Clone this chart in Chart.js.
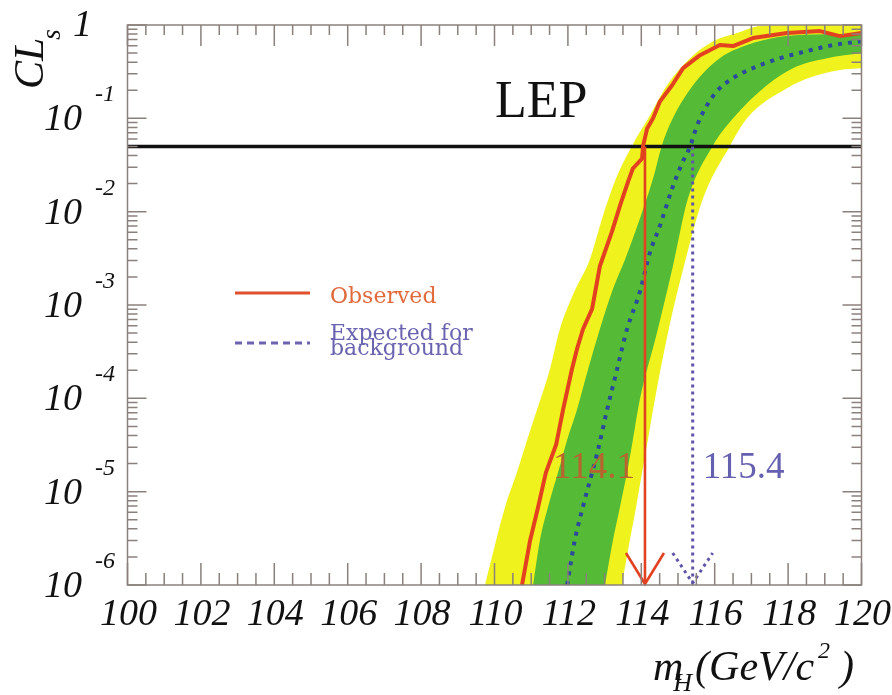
<!DOCTYPE html>
<html><head><meta charset="utf-8">
<script src="https://cdn.jsdelivr.net/npm/chart.js@4/dist/chart.umd.min.js"></script>
<style>html,body{margin:0;padding:0;background:#fff;}</style>
</head><body>
<canvas id="c" width="892" height="695"></canvas>
<script>
// ---- data ----
const obsMass = [110.75,110.97,111.19,111.40,111.68,111.87,112.11,112.25,112.41,112.66,112.87,113.20,113.42,113.64,113.77,114.02,114.05,114.16,114.32,114.51,114.84,115.14,115.60,116.14,116.50,117.04,117.97,118.87,119.41,120.0];
const obsCL   = [1.0e-6,3.0e-6,6.9e-6,1.6e-5,3.2e-5,7.6e-5,2.05e-4,3.4e-4,5.5e-4,9.1e-4,2.6e-3,6.1e-3,1.16e-2,2.1e-2,2.9e-2,3.7e-2,5.1e-2,7.8e-2,0.10,0.152,0.226,0.345,0.475,0.61,0.595,0.725,0.82,0.86,0.76,0.82];

const expMass = [111.98,112.19,112.41,112.66,112.82,113.07,113.34,113.61,113.96,114.24,114.51,114.84,115.11,115.33,115.52,115.79,116.06,116.50,117.04,117.78,118.51,119.22,120.0];
const expCL   = [1.0e-6,3.05e-6,6.9e-6,1.6e-5,2.8e-5,7.6e-5,2.05e-4,5.5e-4,1.38e-3,3.7e-3,7.1e-3,1.77e-2,3.3e-2,5.0e-2,8.4e-2,0.138,0.195,0.27,0.345,0.44,0.525,0.61,0.67];

// +-2 sigma band, upper (left) edge
const band2UpMass = [109.74,110.29,110.61,110.89,111.16,111.51,111.78,112.18,112.60,112.93,113.31,113.75,114.19,114.70,115.33,115.96,116.61,117.24,118.5,120.0];
const band2UpCL   = [1.0e-6,6.9e-6,1.6e-5,3.6e-5,7.6e-5,2.05e-4,5.5e-4,1.4e-3,3.1e-3,8.4e-3,2.26e-2,5.1e-2,0.10,0.226,0.44,0.67,0.82,0.975,1.0,1.0];
// +-1 sigma band, upper (left) edge
const band1UpMass = [111.05,111.24,111.46,111.73,111.98,112.25,112.55,112.87,113.23,113.56,113.96,114.32,114.56,114.86,115.41,116.14,116.88,117.70,118.68,120.0];
const band1UpCL   = [1.0e-6,3.05e-6,6.9e-6,1.6e-5,3.6e-5,7.6e-5,2.05e-4,5.5e-4,1.49e-3,3.1e-3,8.4e-3,2.26e-2,5.1e-2,0.10,0.226,0.44,0.61,0.74,0.79,0.80];
// +-1 sigma band, lower (right) edge
const band1LoMass = [113.01,113.23,113.42,113.61,113.77,113.96,114.43,114.86,115.27,115.95,116.50,117.42,118.13,119.06,120.0];
const band1LoCL   = [1.0e-6,3.05e-6,6.9e-6,1.6e-5,3.6e-5,9.7e-5,5.1e-4,2.6e-3,1.38e-2,5.1e-2,0.10,0.226,0.345,0.44,0.50];
// +-2 sigma band, lower (right) edge
const band2LoMass = [113.47,113.69,113.86,114.02,114.18,114.37,114.73,115.16,115.68,116.42,116.88,117.97,118.68,119.41,120.0];
const band2LoCL   = [1.0e-6,3.05e-6,6.9e-6,1.6e-5,3.6e-5,9.7e-5,5.1e-4,2.6e-3,1.38e-2,5.1e-2,0.10,0.21,0.28,0.33,0.345];

const clLevel = 0.05;
const obsLimit = 114.1;
const expLimit = 115.4;
const obsLimitLabel = '114.1';
const expLimitLabel = '115.4';

const xTickValues = [100,102,104,106,108,110,112,114,116,118,120];
const yDecades    = [1, 1e-1, 1e-2, 1e-3, 1e-4, 1e-5, 1e-6];
const yExponents  = ['', '-1', '-2', '-3', '-4', '-5', '-6'];
const legendItems = ['Observed', ['Expected for', 'background']];
const plotTitle = 'LEP';

// ---- styles ----
const C_OBS = '#e2421f', C_EXP = '#2c4a9c', C_EXPARROW = '#5f56a8';
const C_YEL = '#f0f21e', C_GRN = '#55ba36', C_AXIS = '#8a817c';
const SERIF = '"Liberation Serif", "Times New Roman", serif';

const pts = (xs, ys) => xs.map((x, i) => ({x: x, y: ys[i]}));
const bandDs = (xs, ys, color, order) => ({
  data: pts(xs, ys), borderWidth: 0, borderColor: 'rgba(0,0,0,0)', backgroundColor: color,
  pointRadius: 0, fill: 'start', cubicInterpolationMode: 'monotone', order: order
});

const decor = {
  id: 'decor',
  afterDatasetsDraw(chart) {
    const ctx = chart.ctx, xs = chart.scales.x, ys = chart.scales.y, a = chart.chartArea;
    ctx.save();
    // limit arrows
    const yTop = ys.getPixelForValue(clLevel), yBot = a.bottom;
    const xo = xs.getPixelForValue(obsLimit), xe = xs.getPixelForValue(expLimit);
    ctx.lineCap = 'butt';
    ctx.strokeStyle = C_EXPARROW; ctx.lineWidth = 3; ctx.setLineDash([3, 4]);
    ctx.beginPath(); ctx.moveTo(xe, yTop); ctx.lineTo(xe, yBot - 2); ctx.stroke();
    ctx.beginPath(); ctx.moveTo(xe - 20, yBot - 32); ctx.lineTo(xe, yBot - 2); ctx.lineTo(xe + 20, yBot - 32); ctx.stroke();
    ctx.setLineDash([]);
    ctx.strokeStyle = C_OBS; ctx.lineWidth = 2.6;
    ctx.beginPath(); ctx.moveTo(xo, yTop); ctx.lineTo(xo, yBot); ctx.stroke();
    ctx.lineJoin = 'miter';
    ctx.beginPath(); ctx.moveTo(xo - 19, yBot - 32); ctx.lineTo(xo, yBot - 1); ctx.lineTo(xo + 19, yBot - 32); ctx.stroke();
    // limit labels
    ctx.font = '37px ' + SERIF; ctx.textBaseline = 'alphabetic';
    ctx.fillStyle = '#b8642f'; ctx.textAlign = 'right';
    ctx.fillText(obsLimitLabel, xo - 10, yBot - 107);
    ctx.fillStyle = '#6660b0'; ctx.textAlign = 'left';
    ctx.fillText(expLimitLabel, xe + 10, yBot - 107);

    // frame
    ctx.strokeStyle = C_AXIS; ctx.lineWidth = 1.5;
    ctx.strokeRect(a.left, a.top, a.right - a.left, a.bottom - a.top);
    // x ticks (inward, bottom and top)
    ctx.beginPath();
    for (let v = xs.min; v <= xs.max + 1e-9; v += 0.5) {
      const px = xs.getPixelForValue(v);
      const major = Math.abs(v / 2 - Math.round(v / 2)) < 1e-9;
      const lb = major ? 22 : 12, lt = major ? 21 : 10;
      ctx.moveTo(px, a.bottom); ctx.lineTo(px, a.bottom - lb);
      ctx.moveTo(px, a.top); ctx.lineTo(px, a.top + lt);
    }
    // y ticks (inward, left and right)
    yDecades.forEach((d, i) => {
      const py = ys.getPixelForValue(d);
      ctx.moveTo(a.left, py); ctx.lineTo(a.left + 19, py);
      ctx.moveTo(a.right, py); ctx.lineTo(a.right - 19, py);
      if (i > 0) {
        for (let k = 2; k <= 9; k++) {
          const pk = ys.getPixelForValue(d * k);
          ctx.moveTo(a.left, pk); ctx.lineTo(a.left + 10, pk);
          ctx.moveTo(a.right, pk); ctx.lineTo(a.right - 10, pk);
        }
      }
    });
    ctx.stroke();

    // x tick labels
    ctx.fillStyle = '#111';
    ctx.font = 'italic 38px ' + SERIF; ctx.textAlign = 'center';
    xTickValues.forEach(v => {
      ctx.fillText(String(v), xs.getPixelForValue(v) + 1, a.bottom + 40);
    });

    // y tick labels
    yDecades.forEach((d, i) => {
      const py = ys.getPixelForValue(d);
      if (yExponents[i] === '') {
        ctx.font = 'italic 38px ' + SERIF; ctx.textAlign = 'right';
        ctx.fillText('1', 92, py + 11);
      } else {
        ctx.font = 'italic 38px ' + SERIF; ctx.textAlign = 'right';
        ctx.fillText('10', 82, py + 12);
        ctx.font = 'italic 24px ' + SERIF; ctx.textAlign = 'left';
        ctx.fillText(yExponents[i], 95, py - 17);
      }
    });

    // y title CL_s
    ctx.save();
    ctx.translate(43, 89); ctx.rotate(-Math.PI / 2);
    ctx.textAlign = 'left'; ctx.font = 'italic 42px ' + SERIF;
    ctx.fillText('CL', 0, 0);
    const wcl = ctx.measureText('CL').width;
    ctx.font = 'italic 27px ' + SERIF;
    ctx.fillText('s', wcl - 2, 17);
    ctx.restore();

    // x title m_H(GeV/c^2)
    ctx.textAlign = 'left';
    let x = 653; const bl = 680;
    ctx.font = 'italic 42px ' + SERIF; ctx.fillText('m', x, bl); x += ctx.measureText('m').width - 10;
    ctx.font = 'italic 26px ' + SERIF; ctx.fillText('H', x, bl + 11); x += ctx.measureText('H').width + 3;
    ctx.font = 'italic 42px ' + SERIF; ctx.fillText('(GeV/c', x, bl); x += ctx.measureText('(GeV/c').width + 4;
    ctx.font = 'italic 24px ' + SERIF; ctx.fillText('2', x, bl - 22); x += ctx.measureText('2').width + 10;
    ctx.font = 'italic 42px ' + SERIF; ctx.fillText(')', x, bl);

    // LEP
    ctx.font = '52px ' + SERIF; ctx.fillStyle = '#111';
    ctx.fillText(plotTitle, 495, 117);

    // legend
    ctx.lineWidth = 3; ctx.strokeStyle = '#e0502c';
    ctx.beginPath(); ctx.moveTo(235, 293); ctx.lineTo(310, 293); ctx.stroke();
    ctx.strokeStyle = '#6b63b0'; ctx.setLineDash([7, 5]);
    ctx.beginPath(); ctx.moveTo(235, 343); ctx.lineTo(310, 343); ctx.stroke();
    ctx.setLineDash([]);
    ctx.font = '22px "DejaVu Serif", serif';
    ctx.fillStyle = '#e06a3a'; ctx.fillText(legendItems[0], 330, 303);
    ctx.fillStyle = '#6a64b0';
    ctx.fillText(legendItems[1][0], 330, 340);
    ctx.fillText(legendItems[1][1], 330, 355);
    ctx.restore();
  }
};

new Chart(document.getElementById('c'), {
  type: 'line',
  data: {
    datasets: [
      {data: pts(obsMass, obsCL), borderColor: C_OBS, borderWidth: 4, pointRadius: 0, fill: false, tension: 0, borderJoinStyle: 'round', order: 1},
      {data: pts(expMass, expCL), borderColor: C_EXP, borderWidth: 4, borderDash: [4, 6], borderCapStyle: 'butt', pointRadius: 0, fill: false, cubicInterpolationMode: 'monotone', order: 2},
      {data: [{x: 100, y: clLevel}, {x: 120, y: clLevel}], borderColor: '#111', borderWidth: 3.5, pointRadius: 0, fill: false, order: 3},
      bandDs(band2LoMass, band2LoCL, '#ffffff', 4),
      bandDs(band1LoMass, band1LoCL, C_YEL, 5),
      bandDs(band1UpMass, band1UpCL, C_GRN, 6),
      bandDs(band2UpMass, band2UpCL, C_YEL, 7)
    ]
  },
  options: {
    responsive: false, animation: false,
    layout: {padding: {left: 127.5, top: 25, right: 30.5, bottom: 110}},
    plugins: {legend: {display: false}, tooltip: {enabled: false}},
    scales: {
      x: {type: 'linear', min: 100, max: 120, display: false},
      y: {type: 'logarithmic', min: 1e-6, max: 1, display: false}
    }
  },
  plugins: [decor]
});
</script>
</body></html>
